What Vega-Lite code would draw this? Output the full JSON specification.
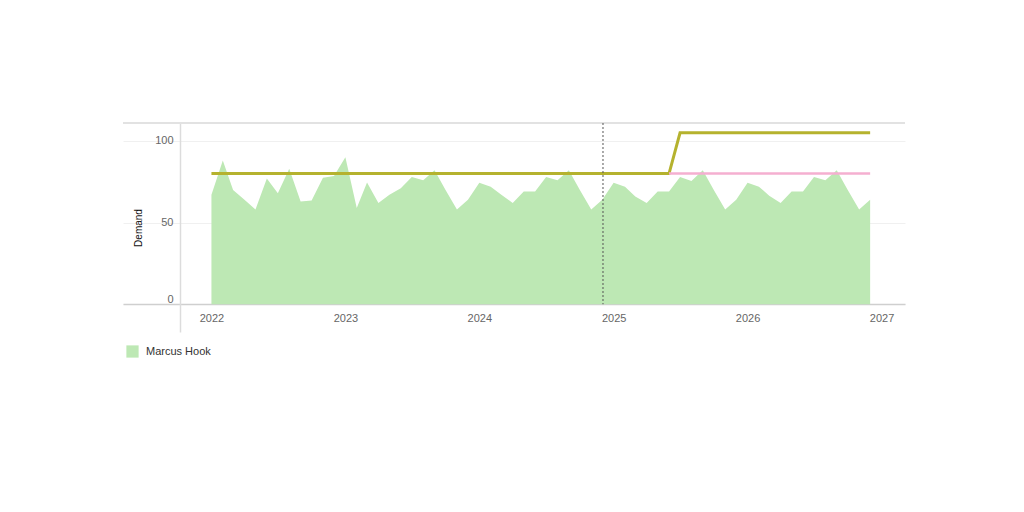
{
  "$schema": "https://vega.github.io/schema/vega-lite/v6.json",
  "width": 782,
  "height": 209,
  "autosize": "none",
  "padding": {"left": 123, "top": 123, "right": 119, "bottom": 180},
  "background": "white",
  "config": {"view": {"stroke": null}, "font": "Liberation Sans"},
  "datasets": {
    "demand": [
      {"date": "2022-01-01", "demand": 67, "site": "Marcus Hook"},
      {"date": "2022-02-01", "demand": 88, "site": "Marcus Hook"},
      {"date": "2022-03-01", "demand": 70, "site": "Marcus Hook"},
      {"date": "2022-04-01", "demand": 64, "site": "Marcus Hook"},
      {"date": "2022-05-01", "demand": 58, "site": "Marcus Hook"},
      {"date": "2022-06-01", "demand": 77, "site": "Marcus Hook"},
      {"date": "2022-07-01", "demand": 68, "site": "Marcus Hook"},
      {"date": "2022-08-01", "demand": 83, "site": "Marcus Hook"},
      {"date": "2022-09-01", "demand": 63, "site": "Marcus Hook"},
      {"date": "2022-10-01", "demand": 63.5, "site": "Marcus Hook"},
      {"date": "2022-11-01", "demand": 77.5, "site": "Marcus Hook"},
      {"date": "2022-12-01", "demand": 78.5, "site": "Marcus Hook"},
      {"date": "2023-01-01", "demand": 90, "site": "Marcus Hook"},
      {"date": "2023-02-01", "demand": 59, "site": "Marcus Hook"},
      {"date": "2023-03-01", "demand": 74.5, "site": "Marcus Hook"},
      {"date": "2023-04-01", "demand": 62, "site": "Marcus Hook"},
      {"date": "2023-05-01", "demand": 67, "site": "Marcus Hook"},
      {"date": "2023-06-01", "demand": 71, "site": "Marcus Hook"},
      {"date": "2023-07-01", "demand": 78, "site": "Marcus Hook"},
      {"date": "2023-08-01", "demand": 76, "site": "Marcus Hook"},
      {"date": "2023-09-01", "demand": 82, "site": "Marcus Hook"},
      {"date": "2023-10-01", "demand": 70, "site": "Marcus Hook"},
      {"date": "2023-11-01", "demand": 58, "site": "Marcus Hook"},
      {"date": "2023-12-01", "demand": 64, "site": "Marcus Hook"},
      {"date": "2024-01-01", "demand": 74.4, "site": "Marcus Hook"},
      {"date": "2024-02-01", "demand": 72, "site": "Marcus Hook"},
      {"date": "2024-03-01", "demand": 67, "site": "Marcus Hook"},
      {"date": "2024-04-01", "demand": 62, "site": "Marcus Hook"},
      {"date": "2024-05-01", "demand": 69, "site": "Marcus Hook"},
      {"date": "2024-06-01", "demand": 69, "site": "Marcus Hook"},
      {"date": "2024-07-01", "demand": 78, "site": "Marcus Hook"},
      {"date": "2024-08-01", "demand": 76, "site": "Marcus Hook"},
      {"date": "2024-09-01", "demand": 82, "site": "Marcus Hook"},
      {"date": "2024-10-01", "demand": 70, "site": "Marcus Hook"},
      {"date": "2024-11-01", "demand": 58, "site": "Marcus Hook"},
      {"date": "2024-12-01", "demand": 64, "site": "Marcus Hook"},
      {"date": "2025-01-01", "demand": 74.4, "site": "Marcus Hook"},
      {"date": "2025-02-01", "demand": 72, "site": "Marcus Hook"},
      {"date": "2025-03-01", "demand": 66, "site": "Marcus Hook"},
      {"date": "2025-04-01", "demand": 62, "site": "Marcus Hook"},
      {"date": "2025-05-01", "demand": 69, "site": "Marcus Hook"},
      {"date": "2025-06-01", "demand": 69, "site": "Marcus Hook"},
      {"date": "2025-07-01", "demand": 78, "site": "Marcus Hook"},
      {"date": "2025-08-01", "demand": 75.5, "site": "Marcus Hook"},
      {"date": "2025-09-01", "demand": 82, "site": "Marcus Hook"},
      {"date": "2025-10-01", "demand": 70, "site": "Marcus Hook"},
      {"date": "2025-11-01", "demand": 58, "site": "Marcus Hook"},
      {"date": "2025-12-01", "demand": 64, "site": "Marcus Hook"},
      {"date": "2026-01-01", "demand": 74.4, "site": "Marcus Hook"},
      {"date": "2026-02-01", "demand": 72, "site": "Marcus Hook"},
      {"date": "2026-03-01", "demand": 66.5, "site": "Marcus Hook"},
      {"date": "2026-04-01", "demand": 62, "site": "Marcus Hook"},
      {"date": "2026-05-01", "demand": 69, "site": "Marcus Hook"},
      {"date": "2026-06-01", "demand": 69, "site": "Marcus Hook"},
      {"date": "2026-07-01", "demand": 78, "site": "Marcus Hook"},
      {"date": "2026-08-01", "demand": 76, "site": "Marcus Hook"},
      {"date": "2026-09-01", "demand": 82, "site": "Marcus Hook"},
      {"date": "2026-10-01", "demand": 70, "site": "Marcus Hook"},
      {"date": "2026-11-01", "demand": 58, "site": "Marcus Hook"},
      {"date": "2026-12-01", "demand": 64, "site": "Marcus Hook"}
    ],
    "capacity": [
      {"date": "2022-01-01", "value": 80},
      {"date": "2025-06-01", "value": 80},
      {"date": "2025-07-01", "value": 105},
      {"date": "2026-12-01", "value": 105}
    ],
    "baseline": [
      {"date": "2025-06-01", "value": 80},
      {"date": "2026-12-01", "value": 80}
    ],
    "today": [
      {"date": "2024-12-03", "top": 111, "bottom": 0}
    ],
    "frame": [
      {"top": 111}
    ]
  },
  "layer": [
    {
      "data": {"name": "demand"},
      "mark": {"type": "area", "opacity": 1},
      "encoding": {
        "x": {
          "field": "date",
          "type": "temporal",
          "scale": {
            "type": "utc",
            "domain": [
              {"year": 2021, "month": 5, "date": 5, "utc": true},
              {"year": 2027, "month": 3, "date": 6, "utc": true}
            ]
          },
          "axis": {
            "orient": "bottom",
            "offset": -28,
            "format": "%Y",
            "tickCount": {"interval": "year", "step": 1},
            "grid": false,
            "ticks": false,
            "labelPadding": 8,
            "labelColor": "#666666",
            "labelFontSize": 11,
            "labelFlush": false,
            "domainColor": "#cfcfcf",
            "domainWidth": 1.5,
            "title": null
          }
        },
        "y": {
          "field": "demand",
          "type": "quantitative",
          "scale": {"domain": [-17, 111], "nice": false, "zero": false},
          "axis": {
            "values": [0, 50, 100],
            "offset": -57,
            "title": "Demand",
            "titleFontSize": 10,
            "titleColor": "#111111",
            "titleFontWeight": "normal",
            "titlePadding": 11,
            "labelColor": "#666666",
            "labelFontSize": 11,
            "labelPadding": 7,
            "labelBaseline": {"condition": {"test": "datum.value === 0", "value": "bottom"}, "value": "middle"},
            "ticks": false,
            "domainColor": "#dcdcdc",
            "domainWidth": 1.5,
            "gridColor": "#f0f0f0",
            "gridWidth": 1
          }
        },
        "y2": {"datum": 0},
        "color": {
          "field": "site",
          "type": "nominal",
          "scale": {"range": ["#bde8b4"]},
          "legend": {
            "title": null,
            "orient": "bottom",
            "offset": 10,
            "padding": 3,
            "symbolType": "square",
            "symbolSize": 150,
            "symbolStrokeWidth": 0,
            "symbolOpacity": 1,
            "labelOffset": 7,
            "labelFontSize": 11,
            "labelColor": "#333333"
          }
        }
      }
    },
    {
      "data": {"name": "frame"},
      "mark": {"type": "rule", "color": "#e2e2e2", "strokeWidth": 2},
      "encoding": {"y": {"field": "top", "type": "quantitative"}}
    },
    {
      "data": {"name": "capacity"},
      "mark": {"type": "line", "color": "#b5b22e", "strokeWidth": 3},
      "encoding": {
        "x": {"field": "date", "type": "temporal"},
        "y": {"field": "value", "type": "quantitative"}
      }
    },
    {
      "data": {"name": "baseline"},
      "mark": {"type": "line", "color": "#f5afd0", "strokeWidth": 2.5},
      "encoding": {
        "x": {"field": "date", "type": "temporal"},
        "y": {"field": "value", "type": "quantitative"}
      }
    },
    {
      "data": {"name": "today"},
      "mark": {"type": "rule", "color": "#555555", "strokeWidth": 1, "strokeDash": [2, 2]},
      "encoding": {
        "x": {"field": "date", "type": "temporal"},
        "y": {"field": "top", "type": "quantitative"},
        "y2": {"field": "bottom"}
      }
    }
  ]
}
